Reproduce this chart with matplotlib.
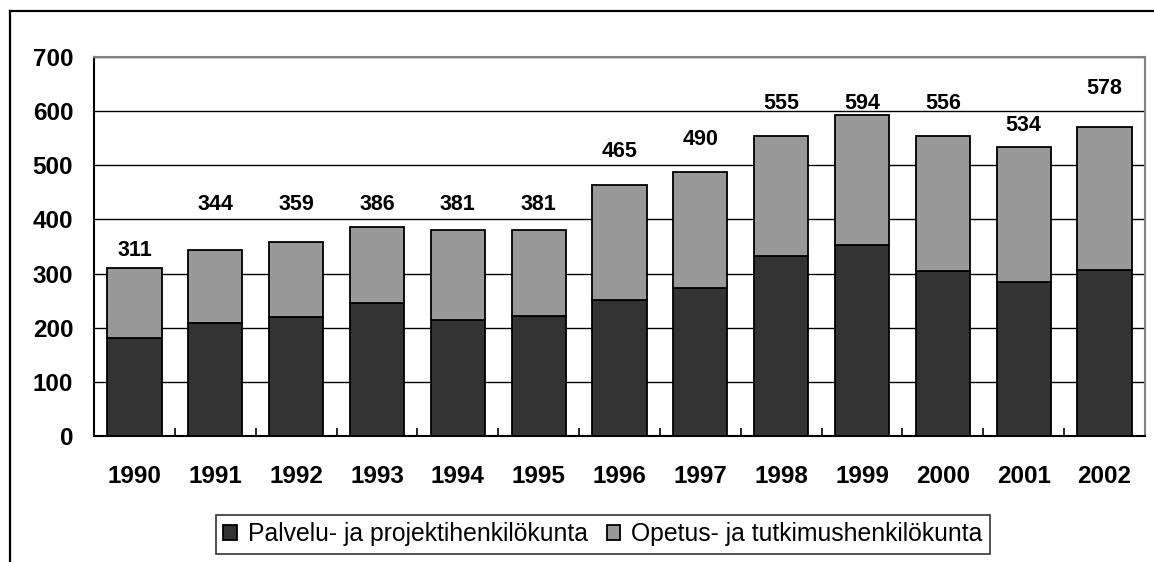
import matplotlib
matplotlib.use("Agg")
import matplotlib.pyplot as plt
from matplotlib.lines import Line2D
import numpy as np

plt.rcParams['font.family'] = ['Liberation Sans', 'DejaVu Sans']

years = ['1990', '1991', '1992', '1993', '1994', '1995', '1996',
         '1997', '1998', '1999', '2000', '2001', '2002']
palvelu = [181, 208, 219, 245, 215, 222, 252, 274, 333, 352, 305, 285, 307]
opetus = [130, 136, 140, 141, 166, 159, 211, 214, 221, 240, 250, 248, 263]
total_labels = [311, 344, 359, 386, 381, 381, 465, 490, 555, 594, 556, 534, 578]
label_heights = [343, 427, 427, 427, 427, 427, 525, 547, 614, 614, 614, 574, 642]
series_names = ['Palvelu- ja projektihenkilökunta', 'Opetus- ja tutkimushenkilökunta']
yticks = [0, 100, 200, 300, 400, 500, 600, 700]

W, H = 1154, 562
fig = plt.figure(figsize=(W / 100, H / 100), dpi=100)
ax = fig.add_axes([94 / W, 1 - 436 / H, (1145 - 94) / W, (436 - 57) / H])

x = np.arange(len(years))
bw = 0.67
b1 = ax.bar(x, palvelu, bw, color='#333333', edgecolor='black', linewidth=1.3, zorder=3,
            label=series_names[0])
b2 = ax.bar(x, opetus, bw, bottom=palvelu, color='#999999', edgecolor='black', linewidth=1.3,
            zorder=3, label=series_names[1])

for xi, lab, hy in zip(x, total_labels, label_heights):
    ax.text(xi, hy, str(lab), ha='center', va='center', fontsize=15.5, fontweight='bold', zorder=4)

ax.set_xlim(-0.5, len(years) - 0.5)
ax.set_ylim(0, 700)
ax.set_yticks(yticks)
ax.set_yticklabels([str(v) for v in yticks], fontsize=17.5, fontweight='bold')
ax.yaxis.grid(True, color='black', linewidth=1.0, zorder=0)
ax.set_axisbelow(True)

ax.set_xticks(x)
ax.set_xticklabels(years, fontsize=17.5, fontweight='bold')
ax.set_xticks(np.arange(-0.5, len(years)), minor=True)
ax.tick_params(axis='x', which='major', length=0, pad=21)
ax.tick_params(axis='x', which='minor', direction='in', length=6, width=1.2, color='black')
ax.tick_params(axis='y', which='major', length=0, pad=15)

for s in ['left', 'bottom']:
    ax.spines[s].set_color('black')
    ax.spines[s].set_linewidth(1.5)
for s in ['top', 'right']:
    ax.spines[s].set_color('#808080')
    ax.spines[s].set_linewidth(1.5)

leg = fig.legend(handles=[b1, b2], labels=series_names, loc='center',
                 bbox_to_anchor=(603 / W, 1 - 534.5 / H), ncol=2, frameon=True,
                 fancybox=False, shadow=False, fontsize=17.8, handlelength=0.55,
                 handleheight=0.55, handletextpad=0.45, columnspacing=0.75,
                 borderpad=0.3, borderaxespad=0)
leg.get_frame().set_edgecolor('black')
leg.get_frame().set_linewidth(1.2)

fx = 10 / W
fy = 1 - 11 / H
fig.add_artist(Line2D([fx, fx], [0, fy], transform=fig.transFigure, color='black', linewidth=1.6))
fig.add_artist(Line2D([fx, 1], [fy, fy], transform=fig.transFigure, color='black', linewidth=1.6))

fig.savefig('out.png', dpi=100, facecolor='white')
